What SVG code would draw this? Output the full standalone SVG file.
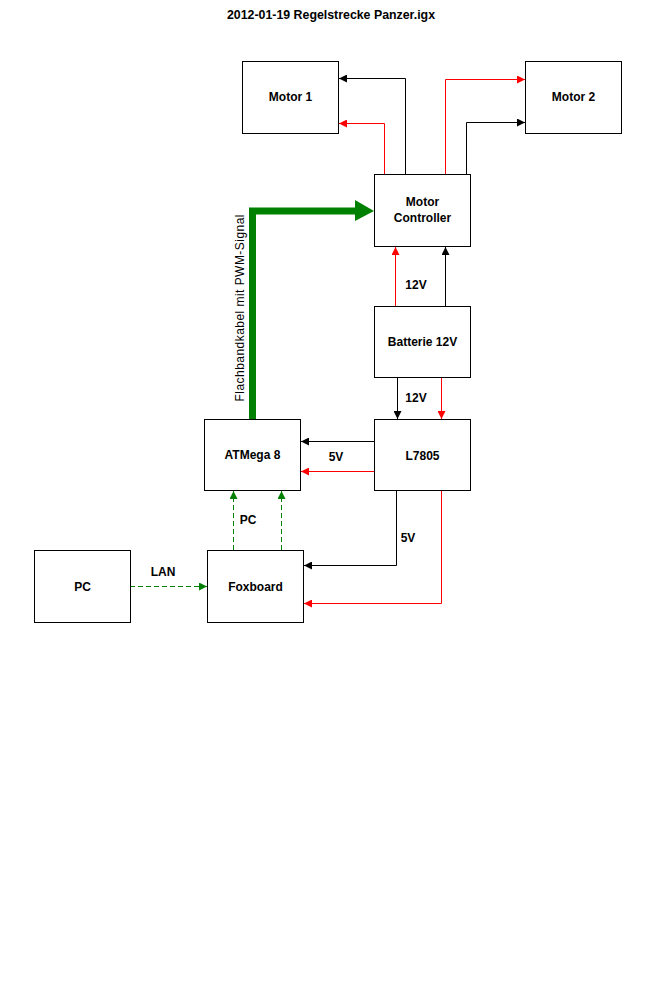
<svg xmlns="http://www.w3.org/2000/svg" width="663" height="991" viewBox="0 0 663 991">
<style>
.box{fill:#fff;stroke:#000;stroke-width:1}
.lbl{font-family:"Liberation Sans",Arial,sans-serif;font-weight:bold;font-size:12px;fill:#000;text-anchor:middle}
.k{fill:none;stroke:#000;stroke-width:1}
.r{fill:none;stroke:#f00;stroke-width:1}
.g{fill:none;stroke:#008000;stroke-width:1;stroke-dasharray:5,3}
</style>
<defs>
<marker id="ak" viewBox="0 0 8 8" refX="8" refY="4" markerWidth="8" markerHeight="8" markerUnits="userSpaceOnUse" orient="auto"><path d="M0,0L8,4L0,8z" fill="#000"/></marker>
<marker id="ar" viewBox="0 0 8 8" refX="8" refY="4" markerWidth="8" markerHeight="8" markerUnits="userSpaceOnUse" orient="auto"><path d="M0,0L8,4L0,8z" fill="#f00"/></marker>
<marker id="ag" viewBox="0 0 8 8" refX="8" refY="4" markerWidth="8" markerHeight="8" markerUnits="userSpaceOnUse" orient="auto"><path d="M0,0L8,4L0,8z" fill="#008000"/></marker>
</defs>
<rect width="663" height="991" fill="#fff"/>
<text class="lbl" x="331" y="19" textLength="208" lengthAdjust="spacingAndGlyphs">2012-01-19 Regelstrecke Panzer.igx</text>

<g id="connectors">
<polyline class="k" points="405.5,174 405.5,78.5 339,78.5" marker-end="url(#ak)"/>
<polyline class="r" points="384.5,174 384.5,123.5 339,123.5" marker-end="url(#ar)"/>
<polyline class="r" points="445.5,174 445.5,79.5 525,79.5" marker-end="url(#ar)"/>
<polyline class="k" points="466.5,174 466.5,122.5 525,122.5" marker-end="url(#ak)"/>
<polyline points="252.5,419 252.5,211 357,211" fill="none" stroke="#008000" stroke-width="7"/>
<polygon points="355,200 374,211 355,221" fill="#008000"/>
<line class="r" x1="395.5" y1="306" x2="395.5" y2="247" marker-end="url(#ar)"/>
<line class="k" x1="445.5" y1="306" x2="445.5" y2="247" marker-end="url(#ak)"/>
<line class="k" x1="397.5" y1="377" x2="397.5" y2="419" marker-end="url(#ak)"/>
<line class="r" x1="441.5" y1="377" x2="441.5" y2="419" marker-end="url(#ar)"/>
<line class="k" x1="374" y1="441.5" x2="301" y2="441.5" marker-end="url(#ak)"/>
<line class="r" x1="374" y1="471.5" x2="301" y2="471.5" marker-end="url(#ar)"/>
<line class="g" x1="233.5" y1="550" x2="233.5" y2="491" marker-end="url(#ag)"/>
<line class="g" x1="281.5" y1="550" x2="281.5" y2="491" marker-end="url(#ag)"/>
<line class="g" x1="130" y1="586.5" x2="207" y2="586.5" marker-end="url(#ag)"/>
<polyline class="k" points="396.5,490 396.5,565.5 304,565.5" marker-end="url(#ak)"/>
<polyline class="r" points="441.5,490 441.5,603.5 304,603.5" marker-end="url(#ar)"/>
<text class="lbl" x="416" y="289">12V</text>
<text class="lbl" x="416" y="402">12V</text>
<text class="lbl" x="336" y="461">5V</text>
<text class="lbl" x="248" y="524">PC</text>
<text class="lbl" x="163" y="576">LAN</text>
<text class="lbl" x="408" y="542">5V</text>
<text x="0" y="0" transform="translate(244,308) rotate(-90)" font-family="'Liberation Sans',Arial,sans-serif" font-size="12" text-anchor="middle" textLength="187" lengthAdjust="spacing" fill="#000">Flachbandkabel mit PWM-Signal</text>
</g>

<g id="motor1"><rect class="box" x="242.5" y="61.5" width="96" height="72"/><text class="lbl" x="290.5" y="101">Motor 1</text></g>
<g id="motor2"><rect class="box" x="525.5" y="61.5" width="96" height="72"/><text class="lbl" x="573.5" y="101">Motor 2</text></g>
<g id="motorcontroller"><rect class="box" x="374.5" y="174.5" width="96" height="72"/><text class="lbl" x="422.5" y="206">Motor</text><text class="lbl" x="422.5" y="222">Controller</text></g>
<g id="batterie"><rect class="box" x="374.5" y="306.5" width="96" height="71"/><text class="lbl" x="422.5" y="346">Batterie 12V</text></g>
<g id="l7805"><rect class="box" x="374.5" y="419.5" width="96" height="71"/><text class="lbl" x="422.5" y="460">L7805</text></g>
<g id="atmega"><rect class="box" x="204.5" y="419.5" width="96" height="71"/><text class="lbl" x="252.5" y="459">ATMega 8</text></g>
<g id="foxboard"><rect class="box" x="207.5" y="550.5" width="96" height="72"/><text class="lbl" x="255.5" y="591">Foxboard</text></g>
<g id="pc"><rect class="box" x="34.5" y="550.5" width="96" height="72"/><text class="lbl" x="82.5" y="591">PC</text></g>
</svg>
